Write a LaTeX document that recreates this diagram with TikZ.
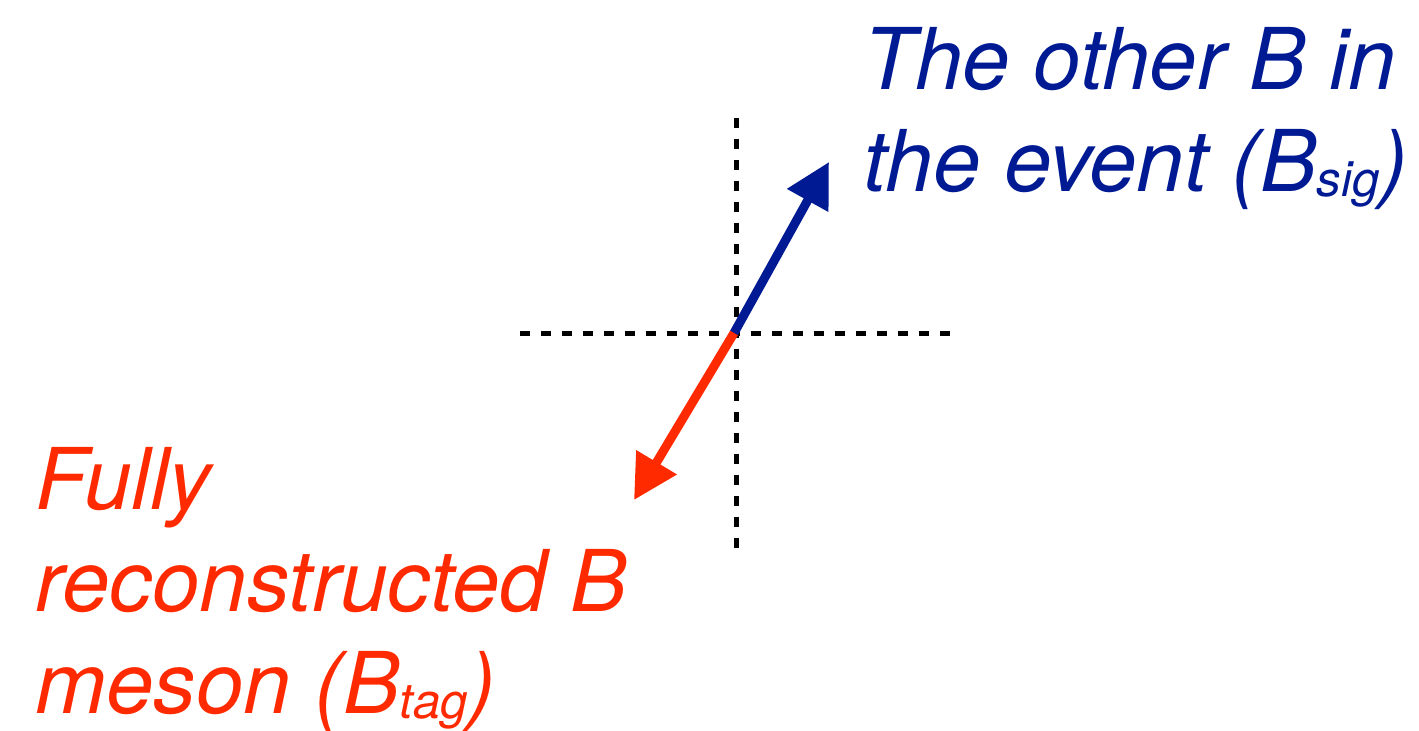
\documentclass[tikz,border=0pt]{standalone}
\usepackage{fontspec}
\usetikzlibrary{arrows.meta}
\newfontfamily\labelfont{TeX Gyre Heros}
\definecolor{sigblue}{RGB}{0,26,148}
\definecolor{tagred}{RGB}{255,42,0}
\newcommand\lowtext[1]{\raisebox{-0.07em}{\fontsize{28}{28}\selectfont #1}}
\begin{document}
\begin{tikzpicture}[x=0.02cm, y=-0.02cm,
    axis/.style={line width=0.1cm, dash pattern=on 0.2cm off 0.22cm},
    momentum/.style={line width=0.18cm, -{Triangle[length=0.88cm, width=0.9cm]}},
    label/.style={inner sep=0pt, align=left,
      font=\labelfont\itshape\fontsize{48.5}{57.8}\selectfont}]
  \useasboundingbox (0,0) rectangle (1419,730);
  \coordinate (O) at (734, 333);
  \coordinate (L) at (520, 333);
  \coordinate (R) at (952, 333);
  \coordinate (T) at (736, 118);
  \coordinate (D) at (736, 548);
  \coordinate (Sig) at (829, 162);
  \coordinate (Tag) at (634, 500);
  % the base anchor sits on the last line
  \node[label, text=sigblue, anchor=base west] (sig) at (863, 191)
    {The other B in\\the event (B\lowtext{sig})};
  \node[label, text=tagred, anchor=base west] (tag) at (35, 713)
    {Fully\\reconstructed B\\meson (B\lowtext{tag})};
  \draw[axis] (L) -- (R);
  \draw[axis] (T) -- (D);
  \draw[momentum, sigblue] (O) -- (Sig);
  \draw[momentum, tagred]  (O) -- (Tag);
\end{tikzpicture}
\end{document}
